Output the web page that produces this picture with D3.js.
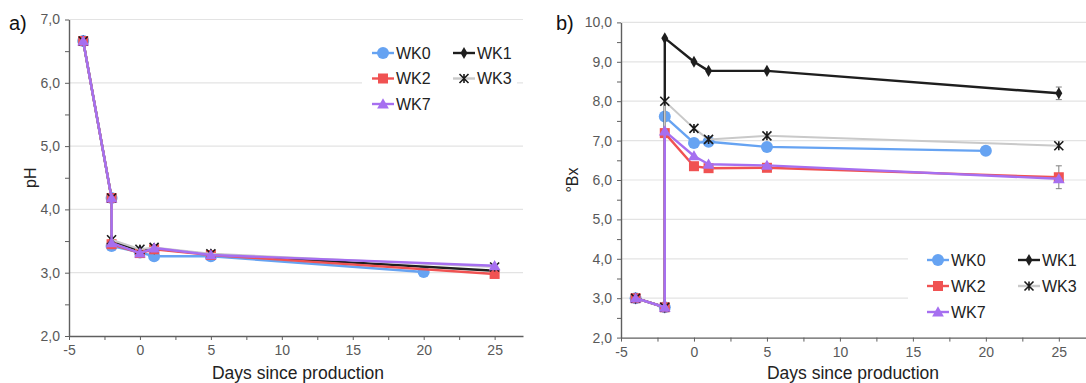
<!DOCTYPE html>
<html><head><meta charset="utf-8">
<script src="https://cdn.jsdelivr.net/npm/d3@7"></script>
<style>
html,body{margin:0;padding:0;background:#fff;}
svg{display:block;font-family:"Liberation Sans",Arial,sans-serif;}
</style></head>
<body>
<svg id="chart" width="1086" height="383"></svg>
<script>
// ---- data ----
const seriesNames = ["WK0","WK1","WK2","WK3","WK7"];
const daysWK0 = [-4,-2,-2,0,1,5,20];
const daysOther = [-4,-2,-2,0,1,5,25];
const xTickLabels = [-5,0,5,10,15,20,25];

const pH_WK0 = [6.66,4.18,3.42,3.32,3.26,3.26,3.01];
const pH_WK1 = [6.66,4.18,3.50,3.35,3.38,3.29,3.03];
const pH_WK2 = [6.66,4.18,3.45,3.31,3.37,3.28,2.98];
const pH_WK3 = [6.66,4.18,3.52,3.37,3.40,3.30,3.09];
const pH_WK7 = [6.66,4.18,3.47,3.31,3.39,3.28,3.11];
const pHTicks = [2,3,4,5,6,7];

const bx_WK0 = [3.0,2.77,7.61,6.94,6.97,6.84,6.74];
const bx_WK1 = [3.0,2.77,9.60,9.00,8.77,8.77,8.20];
const bx_WK2 = [3.0,2.77,7.19,6.35,6.30,6.31,6.07];
const bx_WK3 = [3.0,2.77,8.00,7.31,7.03,7.12,6.87];
const bx_WK7 = [3.0,2.77,7.24,6.61,6.40,6.37,6.03];
const bxTicks = [2,3,4,5,6,7,8,9,10];

// error bars at day 25 (Bx): series, half-width
const bxErrSeries = ["WK1","WK2"];
const bxErrValues = [0.16,0.29];

const colors = {WK0:"#66a3f2",WK1:"#1e1e1e",WK2:"#f05252",WK3:"#c9c9c9",WK7:"#a66ff0"};
const markers = {WK0:"circle",WK1:"diamond",WK2:"square",WK3:"star",WK7:"triangle"};

const svg = d3.select("#chart");

function drawMarker(g, type, x, y, color){
  if(type==="circle"){
    g.append("circle").attr("cx",x).attr("cy",y).attr("r",6).attr("fill",color);
  } else if(type==="diamond"){
    g.append("path").attr("transform",`translate(${x},${y})`)
      .attr("d",d3.symbol(d3.symbolDiamond,42)()).attr("fill",color);
  } else if(type==="square"){
    g.append("rect").attr("x",x-5).attr("y",y-5).attr("width",10).attr("height",10).attr("fill",color);
  } else if(type==="triangle"){
    g.append("path").attr("transform",`translate(${x},${y+1})`)
      .attr("d",d3.symbol(d3.symbolTriangle,60)()).attr("fill",color);
  } else if(type==="star"){
    const s=4.5;
    g.append("path").attr("d",`M${x-s},${y-s}L${x+s},${y+s}M${x-s},${y+s}L${x+s},${y-s}M${x},${y-s}L${x},${y+s}`)
      .attr("stroke","#1a1a1a").attr("stroke-width",1.6).attr("fill","none");
  }
}

function panel(opt){
  const {x,y,yTicks,yLabel,letter,data,legend,errors} = opt;
  const g = svg.append("g");
  const [x0,x1] = x.range();
  // gridlines
  g.selectAll(".grid").data(yTicks.slice(1)).join("line")
    .attr("x1",x0).attr("x2",x1).attr("y1",d=>y(d)).attr("y2",d=>y(d))
    .attr("stroke","#e3e3e3").attr("stroke-width",1.2);
  // legend background (hides gridlines)
  g.append("rect").attr("x",legend.bx).attr("y",legend.by).attr("width",legend.bw).attr("height",legend.bh).attr("fill","#fff");

  // axes
  const yMinor = d3.range(yTicks[0], yTicks[yTicks.length-1]+0.001, 0.5);
  const yAxis = d3.axisLeft(y).tickValues(yMinor).tickSize(4).tickSizeOuter(0)
    .tickFormat(d => yTicks.includes(d) ? d.toFixed(1).replace(".",",") : "");
  const ya = g.append("g").attr("transform",`translate(${x0},0)`).call(yAxis);
  const xMinor = d3.range(-5, 25.01, 2.5);
  const xAxis = d3.axisBottom(x).tickValues(xMinor).tickSize(4).tickSizeOuter(0)
    .tickFormat(d => xTickLabels.includes(d) ? String(d) : "");
  const xa = g.append("g").attr("transform",`translate(0,${y.range()[0]})`).call(xAxis);
  [ya,xa].forEach(a=>{
    a.select(".domain").attr("stroke","#5f5f5f").attr("stroke-width",1.4);
    a.selectAll(".tick line").attr("stroke","#5f5f5f").attr("stroke-width",1);
    a.selectAll(".tick text").attr("fill","#595959").attr("font-size",14)
      .attr("font-family","'Liberation Sans',Arial,sans-serif");
  });
  ya.selectAll(".tick text").attr("x",-9);
  xa.selectAll(".tick text").attr("y",9);

  // error bars
  errors.forEach(e=>{
    const cx = x(e.day), ya1=y(e.v-e.err), ya2=y(e.v+e.err);
    g.append("path").attr("d",`M${cx},${ya1}V${ya2}M${cx-3},${ya1}H${cx+3}M${cx-3},${ya2}H${cx+3}`)
      .attr("stroke","#808080").attr("stroke-width",1).attr("fill","none");
  });

  // series
  const line = d3.line().x(d=>x(d[0])).y(d=>y(d[1]));
  data.forEach(s=>{
    const pts = s.days.map((d,i)=>[d,s.vals[i]]);
    g.append("path").datum(pts).attr("d",line).attr("fill","none")
      .attr("stroke",colors[s.name]).attr("stroke-width", s.name==="WK3"?2:2.4)
      .attr("stroke-linejoin","round");
    pts.forEach(p=>drawMarker(g, markers[s.name], x(p[0]), y(p[1]), colors[s.name]));
  });

  // legend
  const order = ["WK0","WK1","WK2","WK3","WK7"];
  order.forEach((n,i)=>{
    const col = i%2, row = Math.floor(i/2);
    const lx = legend.x + col*legend.colW, ly = legend.y + row*legend.rowH;
    g.append("line").attr("x1",lx).attr("x2",lx+22).attr("y1",ly).attr("y2",ly)
      .attr("stroke",colors[n]).attr("stroke-width",2.4);
    drawMarker(g, markers[n], lx+11, ly, colors[n]);
    g.append("text").attr("x",lx+24).attr("y",ly+5.5).attr("font-size",16)
      .attr("fill","#222").text(n);
  });

  // titles
  const cy = (y.range()[0]+y.range()[1])/2;
  g.append("text").attr("transform",`translate(${opt.yTitleX},${cy}) rotate(-90)`)
    .attr("text-anchor","middle").attr("font-size",16).attr("fill","#222").text(yLabel);
  g.append("text").attr("x",opt.xTitleX).attr("y",379).attr("text-anchor","middle")
    .attr("font-size",17.5).attr("fill","#222").text("Days since production");
  g.append("text").attr("x",opt.letterX).attr("y",30).attr("font-size",20).attr("fill","#111").text(letter);
}

function mk(vals){ return seriesNames.map((n,i)=>({name:n, days: n==="WK0"?daysWK0:daysOther, vals: vals[i]})); }

// Panel a
const xa = d3.scaleLinear().domain([-5,27]).range([69,523]);
const ya = d3.scaleLinear().domain([2,7]).range([336,19.5]);
panel({x:xa,y:ya,yTicks:pHTicks,yLabel:"pH",letter:"a)",
  data: mk([pH_WK0,pH_WK1,pH_WK2,pH_WK3,pH_WK7]),
  legend:{bx:362,by:32,bw:155,bh:85,x:372,y:53,colW:81,rowH:25.5},
  errors:[], yTitleX:36, xTitleX:298, letterX:9});

// Panel b
const xb = d3.scaleLinear().domain([-5,27]).range([621,1088]);
const yb = d3.scaleLinear().domain([2,10]).range([337.6,22.4]);
const bxMap = {WK0:bx_WK0,WK1:bx_WK1,WK2:bx_WK2,WK3:bx_WK3,WK7:bx_WK7};
panel({x:xb,y:yb,yTicks:bxTicks,yLabel:"°Bx",letter:"b)",
  data: mk([bx_WK0,bx_WK1,bx_WK2,bx_WK3,bx_WK7]),
  legend:{bx:908,by:240,bw:180,bh:88,x:927,y:260,colW:91,rowH:26},
  errors: bxErrSeries.map((n,i)=>({day:25, v:bxMap[n][6], err:bxErrValues[i]})),
  yTitleX:578, xTitleX:853, letterX:556});
</script>
</body></html>
